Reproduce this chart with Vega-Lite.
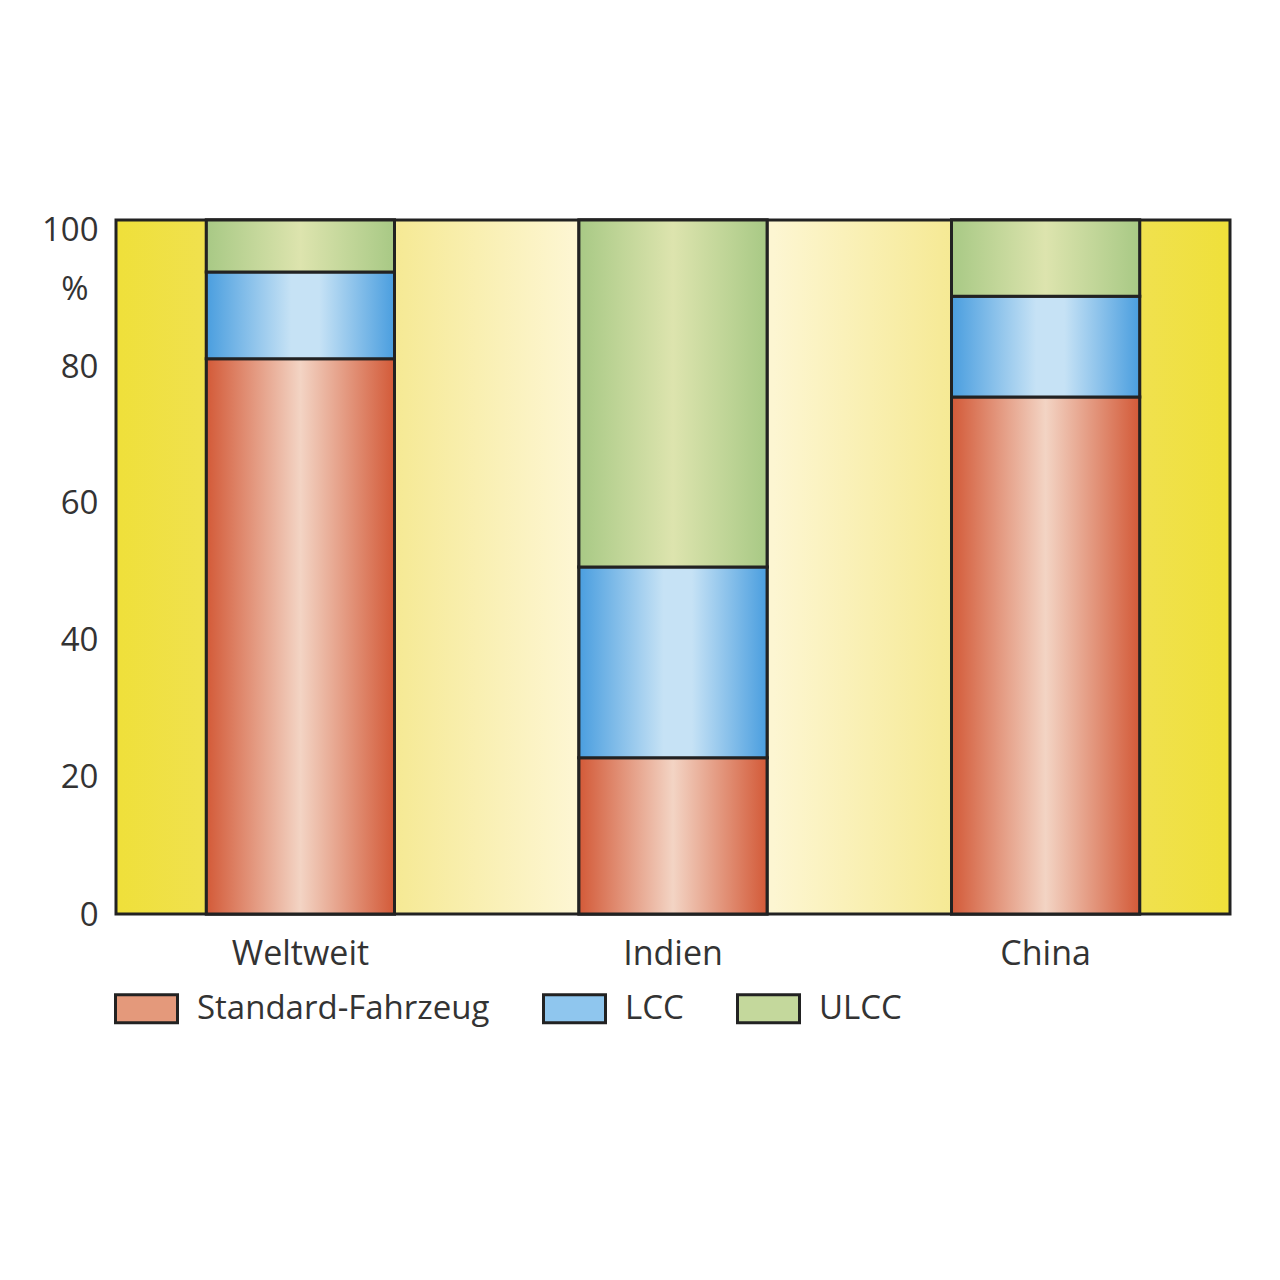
{
  "$schema": "https://vega.github.io/schema/vega-lite/v6.json",
  "width": 1114,
  "height": 694,
  "autosize": {"type": "none"},
  "padding": {"left": 116, "top": 220, "right": 50, "bottom": 300},
  "background": "white",
  "config": {
    "font": "Open Sans",
    "view": {
      "stroke": "#222",
      "strokeWidth": 3,
      "fill": {
        "gradient": "linear", "x1": 0, "y1": 0, "x2": 1, "y2": 0,
        "stops": [
          {"offset": 0, "color": "#efe03a"},
          {"offset": 0.08, "color": "#f0e14e"},
          {"offset": 0.26, "color": "#f6ea98"},
          {"offset": 0.41, "color": "#fdf6d2"},
          {"offset": 0.59, "color": "#fdf6d2"},
          {"offset": 0.74, "color": "#f6ea98"},
          {"offset": 0.92, "color": "#f0e14e"},
          {"offset": 1, "color": "#efe03a"}
        ]
      }
    }
  },
  "data": {
    "values": [
      {"region": "Weltweit", "typ": "Standard-Fahrzeug", "ord": 1, "wert": 80},
      {"region": "Weltweit", "typ": "LCC", "ord": 2, "wert": 12.5},
      {"region": "Weltweit", "typ": "ULCC", "ord": 3, "wert": 7.5},
      {"region": "Indien", "typ": "Standard-Fahrzeug", "ord": 1, "wert": 22.5},
      {"region": "Indien", "typ": "LCC", "ord": 2, "wert": 27.5},
      {"region": "Indien", "typ": "ULCC", "ord": 3, "wert": 50},
      {"region": "China", "typ": "Standard-Fahrzeug", "ord": 1, "wert": 74.5},
      {"region": "China", "typ": "LCC", "ord": 2, "wert": 14.5},
      {"region": "China", "typ": "ULCC", "ord": 3, "wert": 11}
    ]
  },
  "encoding": {
    "x": {
      "field": "region", "type": "nominal", "sort": ["Weltweit", "Indien", "China"],
      "scale": {"paddingInner": 0.495, "paddingOuter": 0.2425},
      "axis": {"title": null, "labelAngle": 0, "ticks": false, "domain": false, "labelFontSize": 34, "labelColor": "#333", "labelPadding": 23}
    },
    "y": {
      "field": "wert", "type": "quantitative", "stack": "zero",
      "scale": {"domain": [0, 100], "nice": false},
      "axis": {
        "title": null, "values": [0, 20, 40, 60, 80, 90, 100],
        "labelExpr": "datum.value == 90 ? '%' : datum.label",
        "ticks": false, "domain": false, "grid": false, "labelFontSize": 33, "labelColor": "#333",
        "labelPadding": {"condition": {"test": "datum.value == 90", "value": 28}, "value": 18},
        "labelOffset": {"condition": [
          {"test": "datum.value == 100", "value": 10},
          {"test": "datum.value == 90", "value": 0},
          {"test": "datum.value == 80", "value": 9},
          {"test": "datum.value == 60", "value": 6},
          {"test": "datum.value == 40", "value": 4},
          {"test": "datum.value == 20", "value": 2}
        ], "value": 1}
      }
    },
    "order": {"field": "ord", "type": "quantitative", "sort": "ascending"}
  },
  "layer": [
    {
      "mark": {"type": "bar", "stroke": "#222", "strokeWidth": 3, "opacity": 1},
      "encoding": {
        "color": {
          "field": "typ", "type": "nominal",
          "scale": {"domain": ["Standard-Fahrzeug", "LCC", "ULCC"], "range": ["#e4997b", "#8fc6ee", "#c4d89c"]},
          "legend": {
            "title": null, "orient": "none", "direction": "horizontal", "columns": 3,
            "legendX": -2, "legendY": 756,
            "symbolType": "M-1,-0.45H1V0.45H-1Z", "symbolSize": 3844,
            "symbolStrokeColor": "#222", "symbolStrokeWidth": 3, "symbolOpacity": 1,
            "labelFontSize": 33, "labelColor": "#333", "labelOffset": 18, "columnPadding": 47,
            "labelLimit": 400
          }
        }
      }
    },
    {
      "mark": {"type": "bar", "stroke": "#222", "strokeWidth": 3, "opacity": 1},
      "encoding": {
        "detail": {"field": "typ", "type": "nominal"},
        "fill": {
          "condition": [
            {"test": "datum.typ === 'LCC'", "value": {"gradient": "linear", "x1": 0, "y1": 0, "x2": 1, "y2": 0, "stops": [{"offset": 0, "color": "#4a9edf"}, {"offset": 0.45, "color": "#c6e2f5"}, {"offset": 0.6, "color": "#c6e2f5"}, {"offset": 1, "color": "#4a9edf"}]}},
            {"test": "datum.typ === 'ULCC'", "value": {"gradient": "linear", "x1": 0, "y1": 0, "x2": 1, "y2": 0, "stops": [{"offset": 0, "color": "#a8c985"}, {"offset": 0.5, "color": "#dde4ae"}, {"offset": 1, "color": "#a8c985"}]}}
          ],
          "value": {"gradient": "linear", "x1": 0, "y1": 0, "x2": 1, "y2": 0, "stops": [{"offset": 0, "color": "#d35a38"}, {"offset": 0.5, "color": "#f3d4c4"}, {"offset": 1, "color": "#d35a38"}]}
        }
      }
    }
  ]
}
